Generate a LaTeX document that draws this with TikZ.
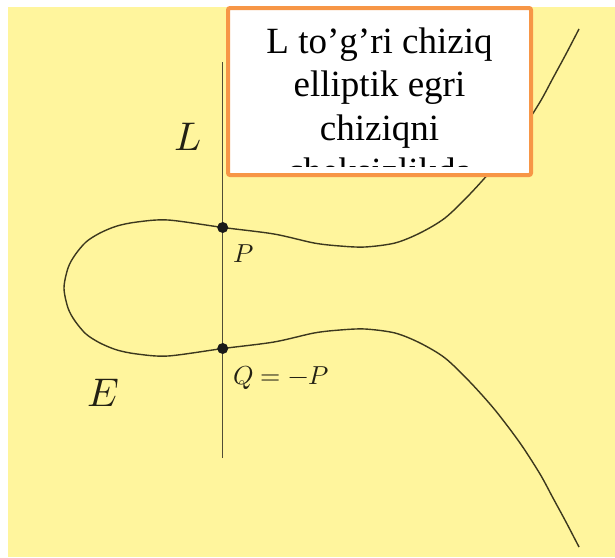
\documentclass[tikz,border=0pt]{standalone}
\usepackage{fontspec}
\usepackage{unicode-math}
\setmathfont{Latin Modern Math}
\newfontfamily\notefont{Liberation Serif}
\usetikzlibrary{positioning,calc}
\definecolor{PadYellow}{RGB}{255,245,157}
\definecolor{NoteOrange}{RGB}{247,150,70}
\definecolor{CurveInk}{RGB}{60,56,30}
\definecolor{LabelInk}{RGB}{35,33,20}

\begin{document}
\begin{tikzpicture}[
    x=1pt,
    y=-1pt,
    curve/.style={
        draw=CurveInk,
        line width=1.4pt,
        line join=round
    },
    axis/.style={
        draw=CurveInk!90,
        line width=1.1pt
    },
    dot/.style={
        fill=black!90
    },
    biglabel/.style={
        inner sep=0pt,
        text=LabelInk,
        font=\fontsize{40}{48}\selectfont
    },
    smalllabel/.style={
        inner sep=0pt,
        text=LabelInk,
        font=\fontsize{26}{31}\selectfont
    },
    notebox/.style={
        draw=NoteOrange,
        line width=4pt,
        rounded corners=2pt,
        fill=white,
        minimum width=303pt,
        minimum height=167pt,
        inner sep=0pt
    },
    notetext/.style={
        align=center,
        inner sep=0pt,
        font=\notefont\fontsize{37}{43.5}\selectfont
    }
]
\useasboundingbox (0,0) rectangle (615,557);

% =========================
% Background
% =========================
\fill[PadYellow] (8,7) rectangle (615,557);

% =========================
% Curve E and line L
% =========================
\draw[curve] plot[smooth] coordinates {
    (579,29) (566,54) (553,78) (540,102) (520,133) (495,166) (470,194)
    (445,218) (420,233) (395,243) (365,247) (340,246) (314,243) (274,234)
    (223,227.5) (168,220) (137,222) (117,226) (100,233) (86,242) (75,255)
    (68,268) (64,288)
    (68,308) (75,321) (86,334) (100,343) (117,350) (137,354) (168,356)
    (223,348.5) (274,342) (314,333) (340,330) (365,329) (395,333) (420,343)
    (445,358) (470,382) (495,410) (520,443) (540,474) (553,498) (566,522)
    (579,547)
};

\coordinate (Ltop) at (222.7,62);
\coordinate (Lbot) at (222.7,458);
\draw[axis] (Lbot) -- (Ltop);

\coordinate (P) at (222.7,227.5);
\coordinate (Q) at (222.7,348.5);
\fill[dot] (P) circle[radius=5.5pt];
\fill[dot] (Q) circle[radius=5.5pt];

\node[biglabel] (labL) at (188,137) {$L$};
\node[biglabel] (labE) at (103,393) {$E$};
\node[smalllabel] (labP) at (243.7,253.5) {$P$};
\node[smalllabel, anchor=base west] (labQ) at (233,384) {$Q=-P$};

% =========================
% Note box
% =========================
\node[notebox] (note) at (379.5,91.5) {};
\coordinate (cutoff) at (531,166);
\begin{scope}
    \clip (note.north west) rectangle (cutoff);
    \node[notetext, anchor=base] (msg) at (379.5,183.5) {L to’g’ri chiziq\\elliptik egri\\chiziqni\\cheksizlikda};
\end{scope}

\end{tikzpicture}
\end{document}
